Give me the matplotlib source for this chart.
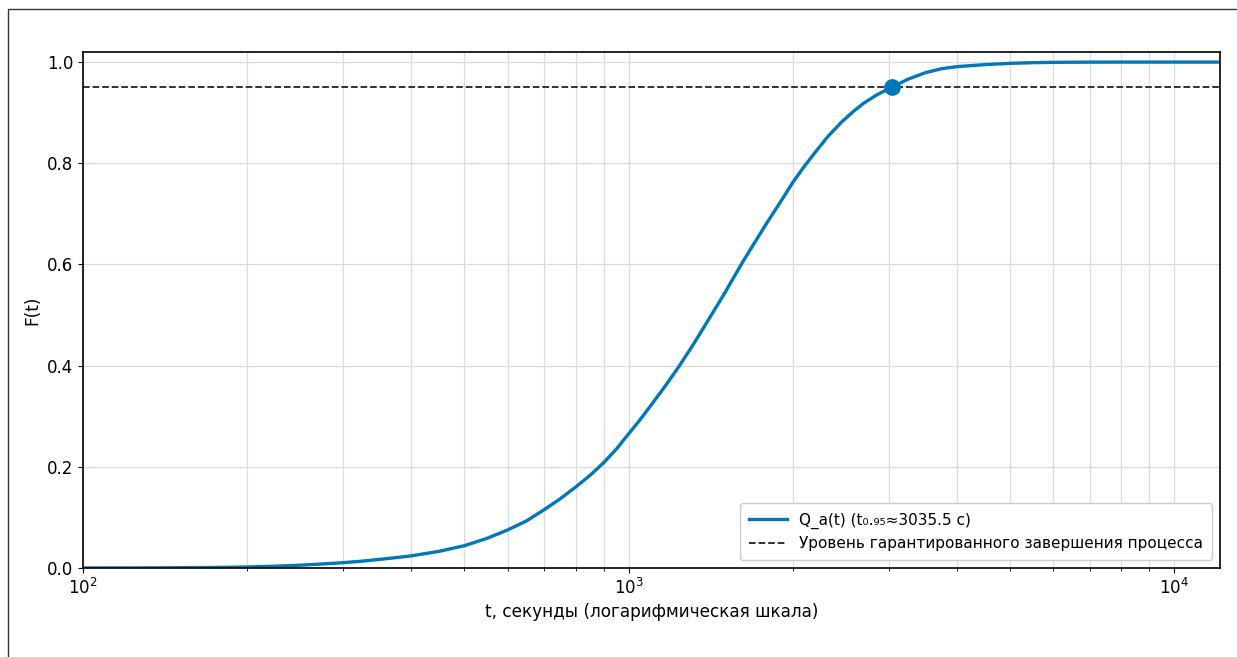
import matplotlib as mpl
from matplotlib import pyplot as plt
from matplotlib.patches import Rectangle

mpl.rc('font', family='DejaVu Sans')
mpl.rc('axes', labelsize=12.2)
mpl.rc('xtick', labelsize=12)
mpl.rc('ytick', labelsize=12)

# F(t), t in seconds
t_sec = [100, 125, 150, 175, 200, 225, 250, 275, 300, 325, 350, 375, 400, 450,
         500, 550, 600, 650, 700, 750, 800, 850, 900, 950, 1000, 1050, 1100,
         1170, 1240, 1320, 1400, 1500, 1609, 1700, 1800, 1900, 2000, 2100, 2200,
         2320, 2455, 2580, 2700, 2860, 3035.5, 3250, 3500, 3750, 4000, 4500,
         5000, 5500, 6000, 7000, 8000, 10000, 12142]
f_val = [0.0, 0.0001, 0.0005, 0.001, 0.002, 0.0035, 0.0055, 0.008, 0.0105,
         0.0135, 0.017, 0.0205, 0.024, 0.033, 0.044, 0.0585, 0.075, 0.093, 0.115,
         0.137, 0.16, 0.183, 0.208, 0.235, 0.265, 0.293, 0.322, 0.361, 0.40, 0.445,
         0.49, 0.543, 0.60, 0.642, 0.685, 0.724, 0.762, 0.794, 0.822, 0.853,
         0.881, 0.902, 0.919, 0.936, 0.95, 0.966, 0.979, 0.987, 0.991, 0.995,
         0.9975, 0.9988, 0.9995, 0.9999, 1.0, 1.0, 1.0]

t95 = 3035.5
level = 0.95

fig = plt.figure(figsize=(12.37, 6.57), dpi=100)
ax = fig.add_axes([0.0671, 0.1355, 0.9192, 0.7854])

ax.plot(t_sec, f_val, color='#0077B6', lw=2.4,
        label='Q_a(t) (t₀.₉₅≈%.1f с)' % t95)
ax.axhline(level, color='#222222', lw=1.3, linestyle='--',
           label='Уровень гарантированного завершения процесса')
ax.plot([t95], [level], 'o', color='#0077B6', ms=11, zorder=5)

ax.set_xscale('log')
ax.set_xlim(100, 12142)
ax.set_ylim(0, 1.02)
ax.set_yticks([0.0, 0.2, 0.4, 0.6, 0.8, 1.0])
ax.grid(True, which='both', color='#d5dde2', lw=0.9)
ax.set_axisbelow(True)
ax.set_xlabel('t, секунды (логарифмическая шкала)')
ax.set_ylabel('F(t)')
for s in ax.spines.values():
    s.set_linewidth(1.2)

ax.legend(loc='lower right', fontsize=11, framealpha=1, edgecolor='#cccccc',
          borderpad=0.6, handlelength=2.5)

# outer frame around the figure
fig.patches.append(Rectangle((8 / 1237, -0.1), 1.2, 1.1 - 9 / 657,
                             transform=fig.transFigure, fill=False,
                             edgecolor='#333333', lw=1.0))

fig.savefig('out.png', dpi=100)
